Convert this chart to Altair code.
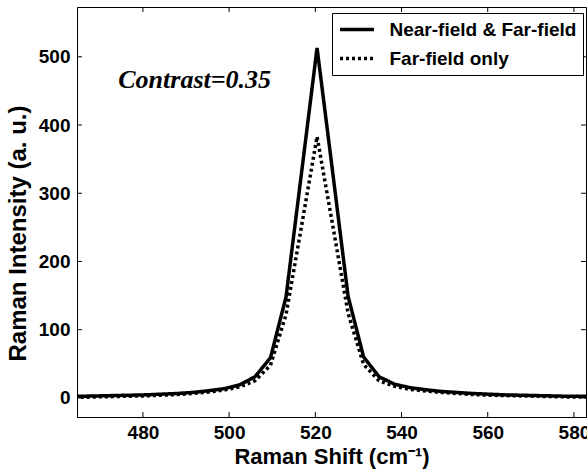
import altair as alt
import pandas as pd

# Raman shift grid (cm^-1)
shift = [462.8, 466.4, 470.0, 473.6, 477.2, 480.8, 484.4, 488.0, 491.6, 495.2,
         498.8, 502.4, 506.0, 509.6, 513.2, 516.8, 520.4, 524.0, 527.6, 531.2,
         534.8, 538.4, 542.0, 545.6, 549.2, 552.8, 556.4, 560.0, 563.6, 567.2,
         570.8, 574.4, 578.0, 581.6, 585.2]
near_far = [2.5, 2.5, 3.0, 3.5, 4.0, 4.5, 5.5, 6.5, 8.0, 10.5,
            13.5, 19.0, 31.0, 59.0, 148.0, 330.0, 513.0, 332.0, 149.0, 60.0,
            31.0, 20.0, 15.0, 12.0, 9.5, 8.0, 6.5, 5.5, 4.5, 4.0,
            3.5, 3.0, 2.5, 2.5, 2.5]
far_only = [1.0, 1.0, 1.5, 2.0, 2.5, 3.0, 4.0, 5.0, 6.5, 8.5,
            11.5, 16.0, 25.0, 48.0, 122.0, 252.0, 383.0, 254.0, 124.0, 49.0,
            25.0, 17.0, 12.5, 10.0, 8.0, 6.5, 5.0, 4.0, 3.5, 3.0,
            2.5, 2.0, 1.5, 1.5, 1.5]

series_names = ["Near-field & Far-field", "Far-field only"]
x_ticks = [480, 500, 520, 540, 560, 580]
y_ticks = [0, 100, 200, 300, 400, 500]
x_domain = [464.7, 582.8]
y_domain = [-28, 573]
annotation = ["Contrast=0.35"]
annotation_x = [492.0]
annotation_y = [466.0]

W, H = 509, 410
FONT = "Liberation Sans"

df = pd.DataFrame({
    "shift": shift * 2,
    "intensity": near_far + far_only,
    "series": [series_names[0]] * len(shift) + [series_names[1]] * len(shift),
})

xs = alt.Scale(domain=x_domain, nice=False, zero=False)
ys = alt.Scale(domain=y_domain, nice=False, zero=False)

lines = alt.Chart(df).mark_line(color="black", strokeWidth=3.5, clip=True, strokeCap="butt").encode(
    x=alt.X("shift:Q", scale=xs,
            axis=alt.Axis(title="Raman Shift (cm\u207b\u00b9)", values=x_ticks, ticks=False,
                          labelPadding=6, titleFontSize=22, titleY=29, titleBaseline="top",
                          format="d")),
    y=alt.Y("intensity:Q", scale=ys,
            axis=alt.Axis(title="Raman Intensity (a. u.)", values=y_ticks, ticks=False,
                          labelPadding=7, titleFontSize=24, titleX=-47, titleY=226,
                          titleBaseline="bottom", format="d")),
    strokeDash=alt.StrokeDash(
        "series:N",
        scale=alt.Scale(domain=series_names, range=[[1, 0], [3, 3]]),
        legend=alt.Legend(
            title=None, orient="none", legendX=255, legendY=6,
            strokeColor="black", fillColor="white", padding=6,
            symbolType="M-2,0H2", symbolSize=289, symbolOffset=8.5, symbolStrokeWidth=3.5,
            symbolStrokeColor="black", labelFont=FONT, labelFontSize=19,
            labelFontWeight="bold", labelColor="black", labelOffset=22,
            rowPadding=8, labelLimit=400,
        ),
    ),
)

xt = pd.DataFrame({"t": x_ticks})
yt = pd.DataFrame({"t": y_ticks})

xtick_bottom = alt.Chart(xt).mark_rule(color="black", strokeWidth=1).encode(
    x=alt.X("t:Q", scale=xs), y=alt.value(H), y2=alt.value(H - 5))
xtick_top = alt.Chart(xt).mark_rule(color="black", strokeWidth=1).encode(
    x=alt.X("t:Q", scale=xs), y=alt.value(0), y2=alt.value(5))
ytick_left = alt.Chart(yt).mark_rule(color="black", strokeWidth=1).encode(
    y=alt.Y("t:Q", scale=ys), x=alt.value(0), x2=alt.value(5))
ytick_right = alt.Chart(yt).mark_rule(color="black", strokeWidth=1).encode(
    y=alt.Y("t:Q", scale=ys), x=alt.value(W - 5), x2=alt.value(W))

ann = alt.Chart(pd.DataFrame({"x": annotation_x, "y": annotation_y, "text": annotation})).mark_text(
    font="Liberation Serif", fontSize=26, fontStyle="italic", fontWeight="bold",
    color="black", align="center", baseline="middle").encode(
    x=alt.X("x:Q", scale=xs), y=alt.Y("y:Q", scale=ys), text="text:N")

chart = alt.layer(lines, xtick_bottom, xtick_top, ytick_left, ytick_right, ann).properties(
    width=W, height=H,
    autosize=alt.AutoSizeParams(type="none"),
    padding={"left": 77, "top": 7, "right": 1, "bottom": 55},
    background="white",
).configure_view(stroke="black", strokeWidth=1).configure_axis(
    labelFont=FONT, labelFontSize=19, labelFontWeight="bold", labelColor="black",
    titleFont=FONT, titleFontWeight="bold", titleColor="black",
    domainColor="black", domainWidth=1, grid=False,
)

chart.save("out.html", embed_options={"renderer": "svg", "actions": False})
